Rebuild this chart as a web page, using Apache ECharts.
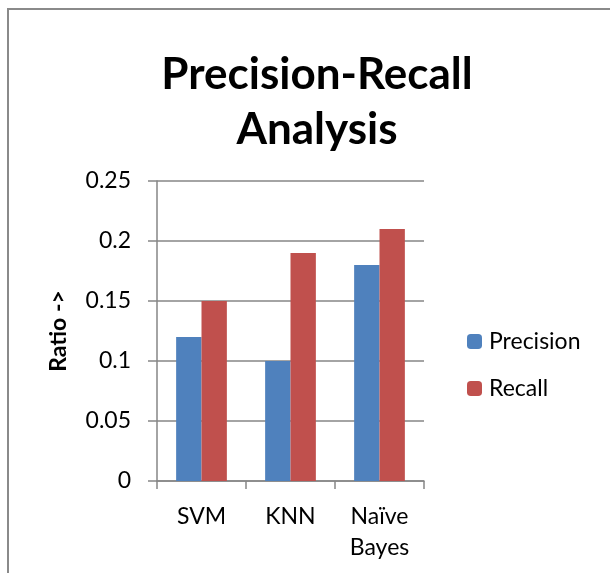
<!DOCTYPE html>
<html>
<head>
<meta charset="utf-8">
<script src="https://cdn.jsdelivr.net/npm/echarts@6/dist/echarts.min.js"></script>
<style>html,body{margin:0;padding:0;background:#fff;}#c{width:610px;height:573px;}</style>
</head>
<body>
<div id="c"></div>
<script>
const categories = ['SVM', 'KNN', 'Naïve\nBayes'];
const precision = [0.12, 0.10, 0.18];
const recall = [0.15, 0.19, 0.21];
const yTicks = [0, 0.05, 0.1, 0.15, 0.2, 0.25];

const chart = echarts.init(document.getElementById('c'));
const font = 'Lato, "Open Sans", sans-serif';
chart.setOption({
  animation: false,
  backgroundColor: '#fff',
  textStyle: { fontFamily: font },
  graphic: [{
    type: 'rect', shape: { x: 8, y: 9, width: 800, height: 800 },
    style: { fill: 'none', stroke: '#8a8a8a', lineWidth: 2 }, z: -1
  }],
  title: {
    text: 'Precision-Recall\nAnalysis',
    left: 312, top: 42, textAlign: 'center',
    textStyle: { fontSize: 44, fontWeight: 'bold', lineHeight: 55, color: '#000', fontFamily: font }
  },
  legend: {
    orient: 'vertical', left: 462, top: 325,
    itemWidth: 15, itemHeight: 15, itemGap: 24,
    textStyle: { fontSize: 23, color: '#000', fontFamily: font, padding: [0, 0, 0, 2] },
    data: ['Precision', 'Recall']
  },
  grid: { left: 157, right: 186, top: 181, bottom: 92 },
  xAxis: {
    type: 'category', data: categories,
    axisLine: { lineStyle: { color: '#868686', width: 1.5 } },
    axisTick: { show: true, length: 8, alignWithLabel: false, lineStyle: { color: '#868686', width: 1.5 } },
    axisLabel: { fontSize: 23, color: '#000', margin: 20, lineHeight: 31, fontFamily: font }
  },
  yAxis: {
    type: 'value', min: 0, max: 0.25, interval: 0.05,
    name: 'Ratio ->', nameLocation: 'middle', nameGap: 87, nameRotate: 90,
    nameTextStyle: { fontSize: 23, fontWeight: 'bold', color: '#000', fontFamily: font },
    axisLine: { show: true, lineStyle: { color: '#868686', width: 1.5 } },
    axisTick: { show: true, length: 9, lineStyle: { color: '#868686', width: 1.5 } },
    axisLabel: { fontSize: 23, color: '#000', margin: 26, fontFamily: font,
      formatter: v => { const t = yTicks.find(x => Math.abs(x - v) < 1e-9); return t === undefined ? '' : String(t); } },
    splitLine: { lineStyle: { color: '#868686', width: 1.5 } }
  },
  series: [
    { name: 'Precision', type: 'bar', data: precision, barWidth: '28.5%', barGap: '0%', itemStyle: { color: '#4F81BD' } },
    { name: 'Recall', type: 'bar', data: recall, barWidth: '28.5%', barGap: '0%', itemStyle: { color: '#C0504D' } }
  ]
});
</script>
</body>
</html>
